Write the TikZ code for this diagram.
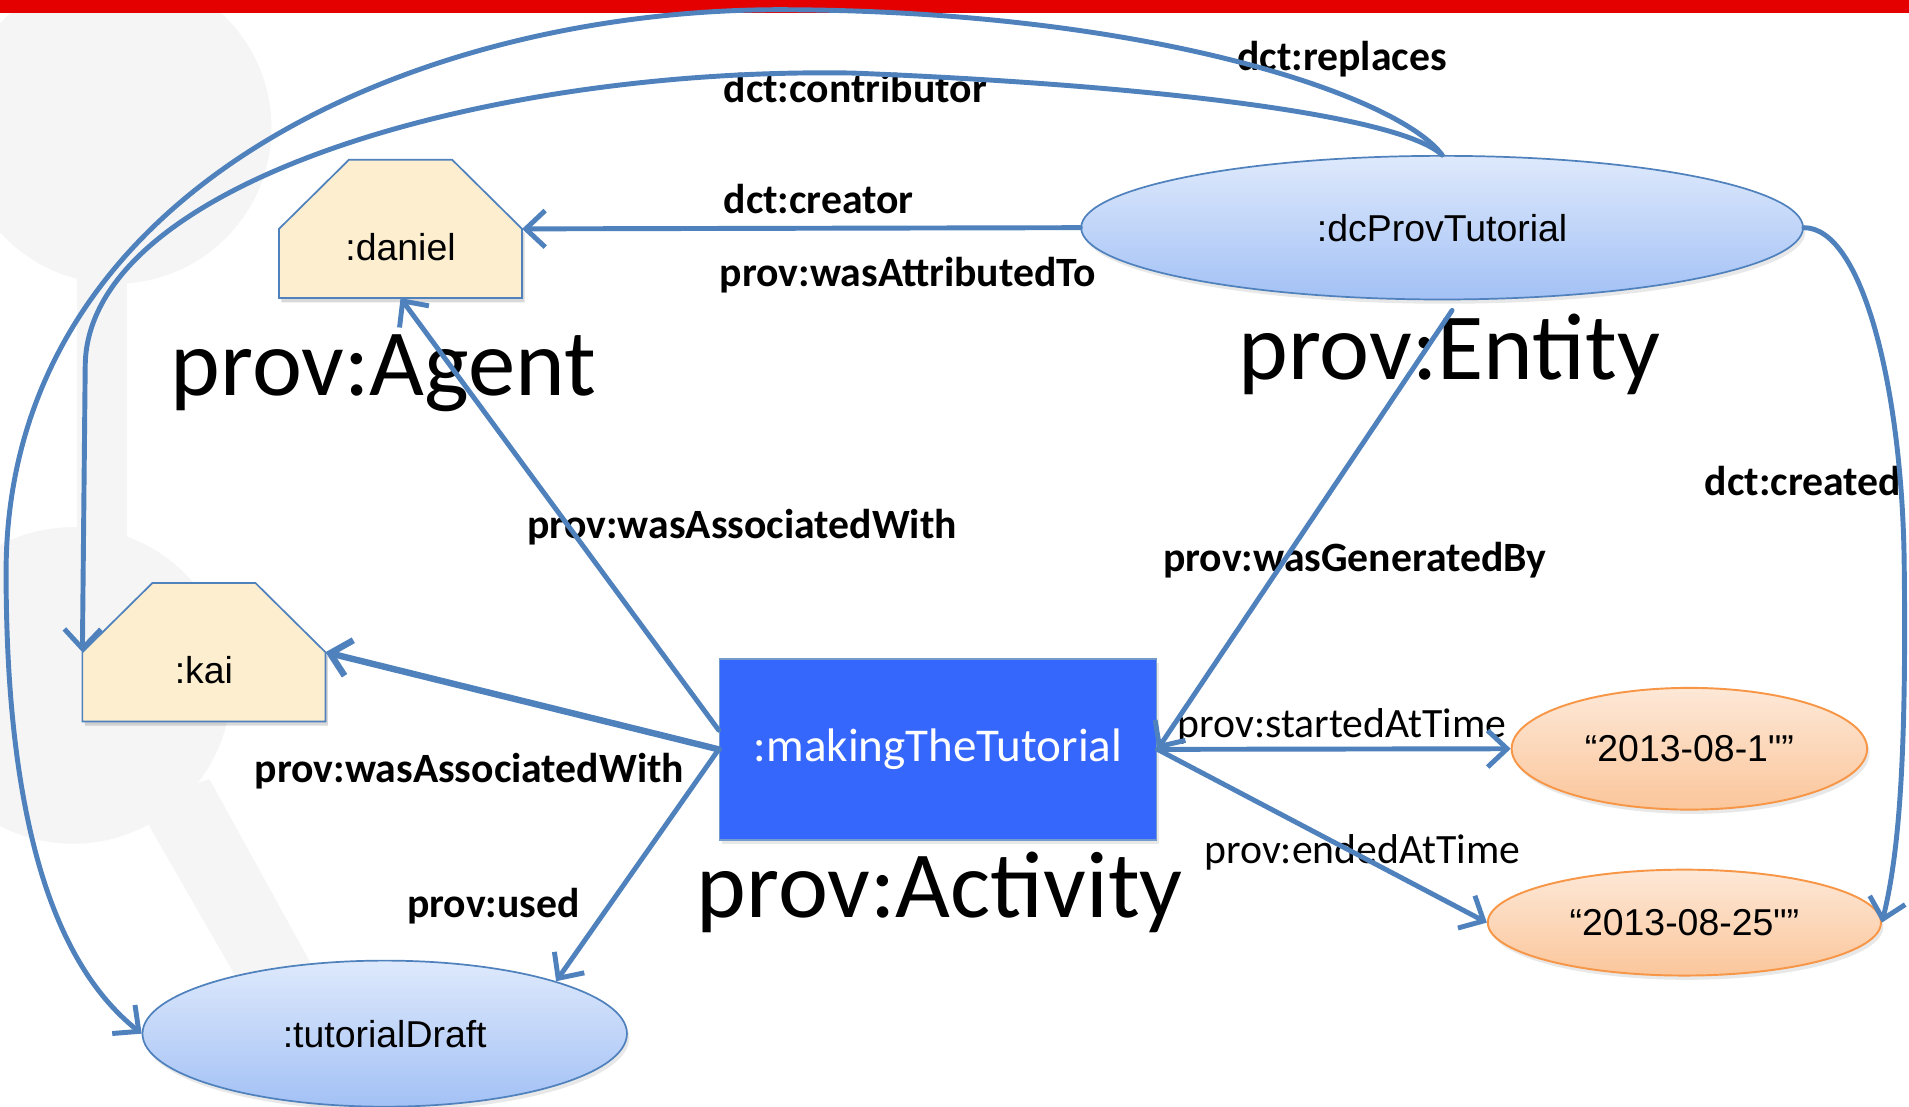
\documentclass[tikz,border=0pt]{standalone}
\usepackage{fontspec}
\setmainfont{Carlito}
\newfontfamily\arialfont{Liberation Sans}[Ligatures=TeXOff]
\usepackage{tikz}
\usetikzlibrary{shapes.geometric, arrows.meta, shadows}
\usepackage{xcolor}
\definecolor{provline}{RGB}{79,129,189}
\definecolor{provred}{RGB}{229,0,0}
\definecolor{agentfill}{RGB}{252,238,207}
\definecolor{entitytop}{RGB}{222,233,252}
\definecolor{entitybot}{RGB}{163,193,245}
\definecolor{littop}{RGB}{253,232,215}
\definecolor{litbot}{RGB}{251,198,155}
\definecolor{litline}{RGB}{247,150,70}
\definecolor{actfill}{RGB}{54,103,253}
\definecolor{wmark}{RGB}{245,245,245}

\pgfdeclarelayer{wm}
\pgfdeclarelayer{agents}
\pgfsetlayers{wm,agents,main}

%% house outline behind an agent node
\newcommand{\agenthouse}[1]{%
  \begin{pgfonlayer}{agents}
    \begin{scope}[transform canvas={shift={(0.04cm,-0.07cm)}}]
      \fill[black, opacity=0.15] (#1.south west) -- (#1.west) -- ([xshift=1.15cm]#1.north west)
        -- ([xshift=-1.15cm]#1.north east) -- (#1.east) -- (#1.south east) -- cycle;
    \end{scope}
    \draw[agentline] (#1.south west) -- (#1.west) -- ([xshift=1.15cm]#1.north west)
      -- ([xshift=-1.15cm]#1.north east) -- (#1.east) -- (#1.south east) -- cycle;
  \end{pgfonlayer}}

\begin{document}
\begin{tikzpicture}[
    x=0.02cm, y=-0.02cm,
    %% edge labels
    lbl/.style    = {font=\fontsize{19.5}{22}\selectfont\bfseries, anchor=base west, inner sep=0pt},
    lblreg/.style = {font=\fontsize{19.5}{22}\selectfont, anchor=base west, inner sep=0pt},
    %% class names
    cls/.style    = {font=\fontsize{44.3}{50}\selectfont, anchor=base west, inner sep=0pt},
    %% agents, entities, literals, activity
    agent/.style  = {rectangle, minimum width=3.98cm, minimum height=2.26cm, inner sep=0pt,
                     text height=1.14cm, text depth=0.1cm,
                     font=\arialfont\fontsize{17.5}{20}\selectfont},
    agentline/.style = {draw=provline, line width=0.8pt, fill=agentfill},
    entity/.style = {ellipse, draw=provline, line width=0.8pt, top color=entitytop,
                     bottom color=entitybot, inner sep=0pt,
                     font=\arialfont\fontsize{17.5}{20}\selectfont,
                     drop shadow={opacity=0.18, shadow xshift=0.04cm, shadow yshift=-0.07cm}},
    literal/.style = {ellipse, draw=litline, line width=0.9pt, top color=littop,
                      bottom color=litbot, inner sep=0pt,
                      font=\arialfont\fontsize{17.5}{20}\selectfont,
                      drop shadow={opacity=0.18, shadow xshift=0.04cm, shadow yshift=-0.07cm}},
    activity/.style = {rectangle, fill=actfill, draw=provline!80, line width=0.8pt,
                       minimum width=7.18cm, minimum height=2.98cm, text=white,
                       font=\fontsize{22}{26}\selectfont,
                       drop shadow={opacity=0.18, shadow xshift=0.04cm, shadow yshift=-0.07cm}},
    rel/.style = {-{Straight Barb[length=0.32cm, width=0.6cm]}, line width=2.3pt,
                  draw=provline, line join=round, line cap=round},
]

\useasboundingbox (0,0) rectangle (1568,909);

%% ---- faint backdrop ----
\begin{pgfonlayer}{wm}
  \fill[white] (0,0) rectangle (1568,909);
  \fill[wmark] (95,105) circle [radius=2.56cm];
  \fill[wmark] (63,200) rectangle (104,450);
  \fill[wmark] (60,563) circle [radius=2.6cm];
  \fill[wmark] (112,660) -- (172,640) -- (320,909) -- (255,909) -- cycle;
\end{pgfonlayer}

\fill[provred] (0,0) rectangle (1568,11);

%% ---- nodes ----
\node[agent] (daniel) at (329,188) {:daniel};
\agenthouse{daniel}
\node[agent] (kai) at (167.5,535.7) {:kai};
\agenthouse{kai}

\node[entity, minimum width=11.86cm, minimum height=2.36cm] (dc) at (1184.5,187) {:dcProvTutorial};
\node[entity, minimum width=7.96cm, minimum height=2.4cm] (draft) at (316,849) {:tutorialDraft};
\node[activity] (act) at (770.5,615.5) {:makingTheTutorial};
\node[literal, minimum width=5.84cm, minimum height=2cm] (started) at (1387.6,615) {“2013-08-1"”};
\node[literal, minimum width=6.46cm, minimum height=1.74cm] (ended) at (1383.5,757.8) {“2013-08-25"”};

%% ---- class names ----
\node[cls] (agentcls)  at (140,325) {prov:Agent};
\node[cls] (entitycls) at (1017,312) {prov:Entity};
\node[cls] (actcls)    at (572,754) {prov:Activity};

%% ---- edge labels ----
\node[lbl] (replaceslbl) at (1016,58)  {dct:replaces};
\node[lbl] (contriblbl)  at (594,84)   {dct:contributor};
\node[lbl] (creatorlbl)  at (594,175)  {dct:creator};
\node[lbl] (attriblbl)   at (591,235)  {prov:wasAttributedTo};
\node[lbl] (assoc1lbl)   at (433,442)  {prov:wasAssociatedWith};
\node[lbl] (genlbl)      at (955,469)  {prov:wasGeneratedBy};
\node[lbl] (createdlbl)  at (1400,407) {dct:created};
\node[lbl] (assoc2lbl)   at (209,643)  {prov:wasAssociatedWith};
\node[lbl] (usedlbl)     at (334,754)  {prov:used};
\node[lblreg] (startlbl) at (967,606)  {prov:startedAtTime};
\node[lblreg] (endlbl)   at (989,709)  {prov:endedAtTime};

%% ---- relations ----
\draw[rel] (dc.west) -- (daniel.east);
\draw[rel] (act.175) -- (daniel.south);
\draw[rel, line width=3pt] (act.west) -- (kai.east);
\draw[rel] (act.west) -- (draft.17);
\draw[rel, shorten <=0.2cm] (dc.-77) -- (act.east);
\draw[rel] (act.east) -- (started.west);
\draw[rel] (act.east) -- (ended.west);

\draw[rel] (dc.east) .. controls (1530,187) and (1562,320) .. (1564,460)
  .. controls (1566,620) and (1560,700) .. (ended.east);
\draw[rel] (dc.north) .. controls (1150,80) and (950,10) .. (650,8)
  .. controls (350,5) and (5,150) .. (5,470)
  .. controls (5,700) and (55,800) .. (draft.west);
\draw[rel] (dc.north) .. controls (1150,95) and (950,70) .. (700,60)
  .. controls (400,55) and (72,150) .. (70,300) -- (kai.west);

\end{tikzpicture}
\end{document}
